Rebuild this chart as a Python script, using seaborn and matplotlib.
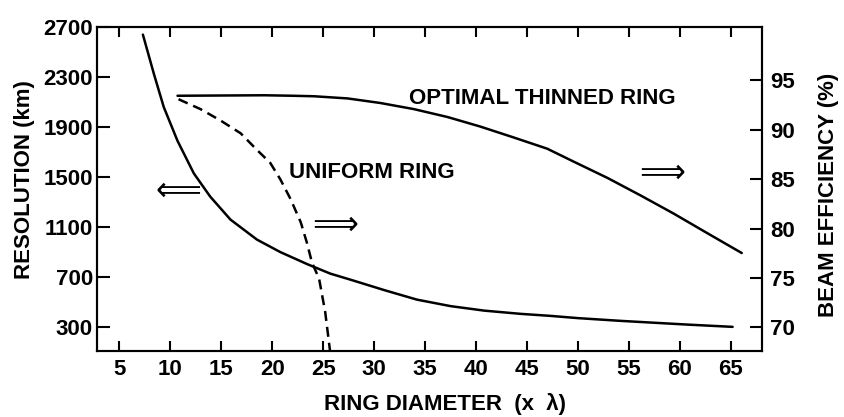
import matplotlib
matplotlib.use("Agg")
import matplotlib.pyplot as plt
import seaborn as sns

# Values
# Resolution (km) vs ring diameter, left axis
res_diameter = [7.3, 8.4, 9.35, 10.7, 12.3, 13.9, 15.9, 18.5, 20.8, 23.4, 25.7,
                27.7, 31.0, 34.2, 37.5, 40.8, 44.4, 47.3, 50.0, 54.2, 60.8, 65.2]
resolution_km = [2640, 2320, 2060, 1790, 1530, 1345, 1160, 1000, 900, 805, 728,
                 679, 596, 520, 468, 432, 406, 390, 372, 350, 320, 302]

# Beam efficiency (%) of the optimal thinned ring, right axis
thin_diameter = [10.7, 19.2, 22.0, 24.1, 27.4, 30.6, 33.9, 37.2, 40.4, 43.7,
                 47.0, 49.6, 52.9, 56.2, 59.4, 62.7, 66.1]
thin_efficiency = [93.45, 93.5, 93.45, 93.4, 93.18, 92.72, 92.1, 91.3, 90.34, 89.23,
                   88.09, 86.78, 85.14, 83.34, 81.53, 79.55, 77.53]

# Beam efficiency (%) of the uniform ring, right axis
unif_diameter = [10.8, 12.95, 14.9, 16.9, 18.5, 19.8, 20.8, 21.8, 22.8, 23.4,
                 23.9, 24.6, 25.2, 25.7]
unif_efficiency = [93.1, 92.1, 90.96, 89.65, 87.97, 86.66, 84.98, 82.99, 80.64, 78.58,
                   76.57, 74.93, 71.56, 67.4]

x_ticks = list(range(5, 70, 5))
left_ticks = [300, 700, 1100, 1500, 1900, 2300, 2700]
right_ticks = [70, 75, 80, 85, 90, 95]


def main():
    sns.set_theme(style="ticks", rc={
        "xtick.color": "black", "ytick.color": "black",
        "axes.edgecolor": "black", "axes.linewidth": 1.5,
        "text.color": "black", "axes.labelcolor": "black",
    })
    plt.rcParams["font.family"] = ["Liberation Sans", "DejaVu Sans"]
    plt.rcParams["font.weight"] = "bold"
    plt.rcParams["axes.labelweight"] = "bold"

    fig, ax = plt.subplots(figsize=(8.44, 4.17), dpi=100)
    fig.subplots_adjust(left=0.115, right=0.903, bottom=0.158, top=0.935)
    ax2 = ax.twinx()

    # -----------------------------
    # Curves
    # -----------------------------
    sns.lineplot(x=res_diameter, y=resolution_km, ax=ax, color="black",
                 linewidth=1.8, sort=False)
    sns.lineplot(x=thin_diameter, y=thin_efficiency, ax=ax2, color="black",
                 linewidth=1.8, sort=False)
    sns.lineplot(x=unif_diameter, y=unif_efficiency, ax=ax2, color="black",
                 linewidth=1.8, sort=False)
    ax2.lines[-1].set_dashes((4.0, 2.4))

    # -----------------------------
    # Axes, ticks, labels
    # -----------------------------
    ax.set_xlim(2.8, 68.1)
    ax.set_ylim(108, 2700)
    ax2.set_ylim(67.6, 100.4)

    ax.set_xticks(x_ticks)
    ax.set_yticks(left_ticks)
    ax2.set_yticks(right_ticks)

    # all ticks point inward, like the original drawing
    ax.tick_params(axis="x", direction="in", top=True, bottom=True,
                   length=7.5, width=1.5, color="black", labelsize=16, pad=6)
    ax.tick_params(axis="y", direction="in", left=True, right=False,
                   length=9, width=1.5, color="black", labelsize=16, pad=3)
    ax2.tick_params(axis="y", direction="in", right=True,
                    length=9, width=1.5, color="black", labelsize=16, pad=6)
    for t in ax.get_xticklabels() + ax.get_yticklabels() + ax2.get_yticklabels():
        t.set_fontweight("bold")

    ax.set_xlabel("RING DIAMETER  (x  λ)", fontsize=16, fontweight="bold")
    ax.set_ylabel("RESOLUTION (km)", fontsize=16, fontweight="bold")
    ax2.set_ylabel("BEAM EFFICIENCY (%)", fontsize=16, fontweight="bold")
    ax.xaxis.set_label_coords(0.523, -0.13)
    ax.yaxis.set_label_coords(-0.093, 0.531)
    ax2.yaxis.set_label_coords(1.084, 0.481)

    # -----------------------------
    # Annotations
    # -----------------------------
    ax2.text(33.4, 92.61, "OPTIMAL THINNED RING", fontsize=16, fontweight="bold",
             ha="left", va="baseline")
    ax2.text(21.6, 85.17, "UNIFORM RING", fontsize=16, fontweight="bold",
             ha="left", va="baseline")

    arrow_font = ["DejaVu Sans"]
    ax.text(10.8, 1386, "\u27F8", fontsize=23, fontweight="normal",
            family=arrow_font, ha="center", va="center")
    ax2.text(26.2, 80.36, "\u27F9", fontsize=23, fontweight="normal",
             family=arrow_font, ha="center", va="center")
    ax2.text(58.3, 85.65, "\u27F9", fontsize=23, fontweight="normal",
             family=arrow_font, ha="center", va="center")

    fig.savefig("out.png", dpi=100)


if __name__ == "__main__":
    main()
